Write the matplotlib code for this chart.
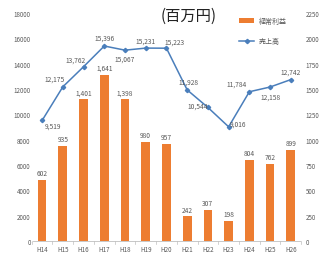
import matplotlib
matplotlib.use("Agg")
import matplotlib.pyplot as plt

plt.rcParams['font.family'] = ['Noto Sans CJK JP', 'DejaVu Sans']

categories = ["H14", "H15", "H16", "H17", "H18", "H19", "H20", "H21", "H22", "H23", "H24", "H25", "H26"]
profit = [602, 935, 1401, 1641, 1398, 980, 957, 242, 307, 198, 804, 762, 899]
sales = [9519, 12175, 13762, 15396, 15067, 15231, 15223, 11928, 10544, 9016, 11784, 12158, 12742]
left_ticks = list(range(0, 18001, 2000))
right_ticks = list(range(0, 2251, 250))

orange = "#ed7d31"
blue = "#4a7ebb"
grey = "#595959"

fig = plt.figure(figsize=(3.28, 2.55), dpi=100)
ax = fig.add_axes([0.10, 0.051, 0.815, 0.894])
ax2 = ax.twinx()

x = list(range(len(categories)))
ax2.bar(x, profit, width=0.42, color=orange, label="経常利益", zorder=2)
ax.plot(x, sales, color=blue, marker="D", markersize=2.2, linewidth=1.1, label="売上高", zorder=3)

ax.set_zorder(ax2.get_zorder() + 1)
ax.patch.set_visible(False)

ax.set_ylim(0, 18000)
ax2.set_ylim(0, 2250)
ax.set_xlim(-0.45, len(categories) - 0.55)
ax.set_yticks(left_ticks)
ax2.set_yticks(right_ticks)
ax.set_xticks(x)
ax.set_xticklabels(categories)

for a in (ax, ax2):
    a.tick_params(labelsize=4.5, colors=grey, length=2, width=0.5, pad=1.5)
    for s in a.spines.values():
        s.set_visible(False)
ax.spines['bottom'].set_visible(True)
ax.spines['bottom'].set_color("#bfbfbf")
ax.spines['bottom'].set_linewidth(0.6)
ax.tick_params(axis='x', length=0, pad=3)
ax.tick_params(axis='y', length=0)
ax2.tick_params(axis='y', length=0, pad=4)
for xb in [i + 0.5 for i in range(-1, len(categories))]:
    ax.plot([xb, xb], [0, -250], color="#bfbfbf", lw=0.5, clip_on=False)

fmt = lambda v: f"{v:,}"
for i, v in enumerate(profit):
    ax2.annotate(fmt(v), (i, v), xytext=(0, 2), textcoords="offset points",
                 ha="center", va="bottom", fontsize=4.8, color=grey)

offsets = [(8, -4), (-6, 6), (-6, 5), (0, 6), (0, -6), (0, 5), (6, 5), (1, 6), (-7, 1), (7, 2), (-9, 6), (0, -7), (0, 6)]
for i, v in enumerate(sales):
    dx, dy = offsets[i]
    ax.annotate(fmt(v), (i, v), xytext=(dx, dy), textcoords="offset points",
                ha="center", va="center", fontsize=4.8, color=grey)

fig.text(0.49, 0.935, "(百万円)", fontsize=11, color="#222222", ha="left", va="center")

h1, l1 = ax2.get_legend_handles_labels()
h2, l2 = ax.get_legend_handles_labels()
leg = fig.legend(h1 + h2, l1 + l2, loc="upper left", bbox_to_anchor=(0.71, 0.955),
                 frameon=False, fontsize=5, labelcolor=grey, handlelength=2.2,
                 labelspacing=1.8, handletextpad=0.6)

fig.savefig("out.png", dpi=100)
